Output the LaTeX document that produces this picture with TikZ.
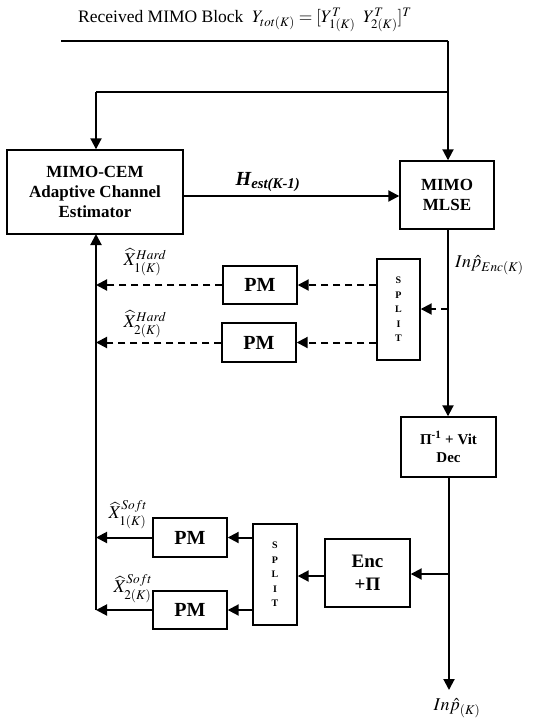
\documentclass[tikz,border=0pt]{standalone}
\usepackage{mathptmx}
\usepackage{fontspec}
\setmainfont{Liberation Serif}
\usetikzlibrary{arrows.meta}
\begin{document}
\begin{tikzpicture}[x=1pt,y=-1pt,
  box/.style={draw,line width=1.4pt,inner sep=0pt,align=center,font=\bfseries},
  conn/.style={line width=2pt,-{Triangle[length=11pt,width=11pt]}},
  dconn/.style={conn,dash pattern=on 7pt off 5pt},
  thin/.style={line width=1.3pt},
  lbl/.style={inner sep=0pt}]
\useasboundingbox (0,0) rectangle (557,725);
% boxes
\node[box,minimum width=176pt,minimum height=84pt,font=\bfseries\fontsize{17}{20}\selectfont] (cem) at (95,192) {MIMO-CEM\\Adaptive Channel\\Estimator};
\node[box,minimum width=94pt,minimum height=68pt,font=\bfseries\fontsize{17}{20}\selectfont] (mlse) at (447,195) {MIMO\\MLSE};
\node[box,minimum width=95pt,minimum height=60pt,font=\bfseries\fontsize{15}{18}\selectfont] (pivit) at (448.5,447) {Π\textsuperscript{-1} + Vit\\Dec};
\node[box,minimum width=43pt,minimum height=101pt,font=\bfseries\fontsize{10}{14.5}\selectfont] (split1) at (398.5,309.5) {S\\P\\L\\I\\T};
\node[box,minimum width=74pt,minimum height=38pt,font=\bfseries\fontsize{20}{22}\selectfont] (pm1) at (260,285) {PM};
\node[box,minimum width=74pt,minimum height=39pt,font=\bfseries\fontsize{20}{22}\selectfont] (pm2) at (259,342.5) {PM};
\node[box,minimum width=74pt,minimum height=39pt,font=\bfseries\fontsize{20}{22}\selectfont] (pm3) at (190,537.5) {PM};
\node[box,minimum width=74pt,minimum height=38pt,font=\bfseries\fontsize{20}{22}\selectfont] (pm4) at (190,610) {PM};
\node[box,minimum width=44pt,minimum height=101pt,font=\bfseries\fontsize{10}{14.5}\selectfont] (split2) at (275,574.5) {S\\P\\L\\I\\T};
\node[box,minimum width=85pt,minimum height=68pt,font=\bfseries\fontsize{19}{23}\selectfont] (enc) at (367.5,573) {Enc\\+Π};
% coordinates
\coordinate (tl) at (61,41);
\coordinate (tr) at (448,41);
\coordinate (br) at (448,92);
\coordinate (bl) at (96,92);
\coordinate (j1) at (448,309);
\coordinate (j2) at (449,574);
\coordinate (out) at (449,690);
\coordinate (fb) at (96,610);
\coordinate (fbtop) at (96,234);
% connectors
\draw[line width=2pt] (tl) -- (tr);
\draw[conn] (tr) -- (mlse.north -| tr);
\draw[thin] (br) -- (bl);
\draw[conn] (bl) -- (bl |- cem.north);
\draw[conn] (cem.east |- 0,196) -- (mlse.west |- 0,196);
\draw[conn] (mlse.south -| tr) -- (pivit.north -| tr);
\draw[conn] (pivit.south -| out) -- (out);
\draw[dconn] (j1) -- (split1.east |- j1);
\draw[dconn] (split1.west |- pm1) -- (pm1.east);
\draw[dconn] (pm1.west) -- (pm1.west -| fb);
\draw[dconn] (split1.west |- pm2) -- (pm2.east);
\draw[dconn] (pm2.west) -- (pm2.west -| fb);
\draw[conn] (j2) -- (enc.east |- j2);
\draw[conn] (enc.west |- 0,576) -- (split2.east |- 0,576);
\draw[conn] (split2.west |- pm3) -- (pm3.east);
\draw[conn] (split2.west |- pm4) -- (pm4.east);
\draw[conn] (pm3.west) -- (pm3.west -| fb);
\draw[conn] (pm4.west) -- (pm4.west -| fb);
\draw[conn] (fb) -- (fbtop);
% labels
\node[lbl,font=\fontsize{17.5}{20}\selectfont] (top) at (245,20) {Received MIMO Block \ $Y_{tot(K)}=[Y^{T}_{1(K)}\;\;Y^{T}_{2(K)}]^{T}$};
\node[lbl,font=\bfseries\itshape\fontsize{20}{22}\selectfont] (hest) at (268,182) {H\textsubscript{est(K-1)}};
\node[lbl,anchor=west,font=\fontsize{18}{20}\selectfont] (inenc) at (455,265) {$In\hat{p}_{Enc(K)}$};
\node[lbl,font=\fontsize{18}{20}\selectfont] (xh1) at (145,262) {$\widehat{X}^{Hard}_{1(K)}$};
\node[lbl,font=\fontsize{18}{20}\selectfont] (xh2) at (145,324) {$\widehat{X}^{Hard}_{2(K)}$};
\node[lbl,font=\fontsize{18}{20}\selectfont] (xs1) at (128,515) {$\widehat{X}^{Soft}_{1(K)}$};
\node[lbl,font=\fontsize{18}{20}\selectfont] (xs2) at (133,589) {$\widehat{X}^{Soft}_{2(K)}$};
\node[lbl,font=\fontsize{18}{20}\selectfont] (inout) at (457,708) {$In\hat{p}_{(K)}$};
\end{tikzpicture}
\end{document}
